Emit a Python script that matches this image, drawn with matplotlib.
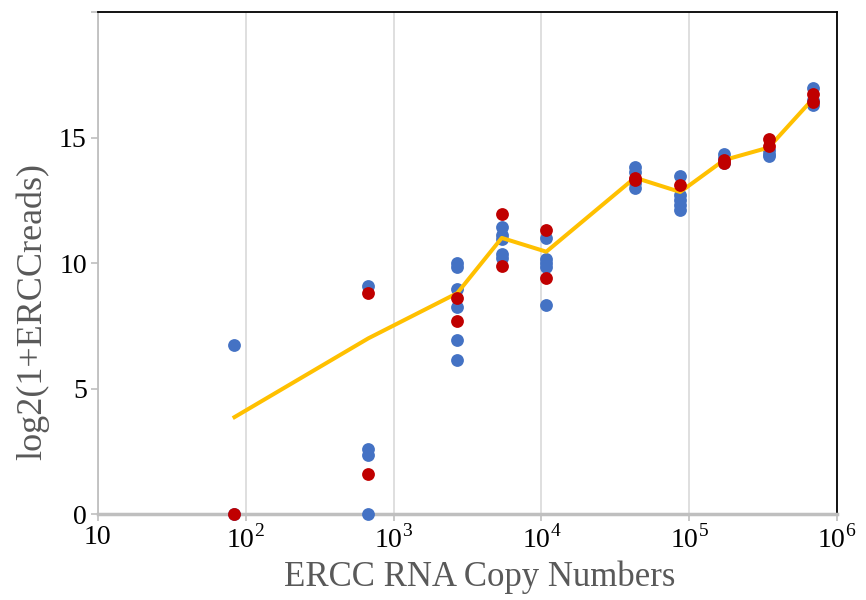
import matplotlib
matplotlib.use('Agg')
import matplotlib.pyplot as plt

plt.rcParams['font.family'] = 'Liberation Serif'
plt.rcParams['mathtext.fontset'] = 'custom'
plt.rcParams['mathtext.rm'] = 'Liberation Serif'

# ERCC copy numbers (x) and log2 read counts per spike-in group
copies = [84, 676, 2700, 5400, 10800, 43000, 87000, 172000, 345000, 690000]

blue_vals = [
    [6.75, 0],
    [9.1, 2.6, 2.35, 0],
    [10.0, 9.85, 8.95, 8.25, 6.93, 6.14],
    [11.42, 11.1, 10.95, 10.35, 10.2],
    [11.0, 10.15, 10.0, 9.85, 8.33],
    [13.83, 13.62, 13.0, 13.2],
    [13.45, 12.7, 12.5, 12.3, 12.1],
    [14.34, 14.0, 14.2],
    [14.5, 14.35, 14.25],
    [16.98, 16.3, 16.5],
]
red_vals = [
    [0],
    [8.8, 1.6],
    [8.62, 7.7],
    [11.95, 9.88],
    [11.32, 9.4],
    [13.38, 13.3],
    [13.1],
    [14.12, 14.0],
    [14.95, 14.65],
    [16.73, 16.42],
]
line_vals = [3.86, 7.0, 8.8, 11.0, 10.45, 13.4, 12.83, 14.1, 14.6, 16.55]

x_ticks = [10, 1e2, 1e3, 1e4, 1e5, 1e6]
x_labels = ['10', '$10^2$', '$10^3$', '$10^4$', '$10^5$', '$10^6$']
y_ticks = [0, 5, 10, 15, 20]
y_labels = ['0', '5', '10', '15', '']

fig = plt.figure(figsize=(8.66, 6), dpi=100)
ax = fig.add_axes([0.113, 0.1433, 0.8535, 0.8367])

bx = [c for c, vals in zip(copies, blue_vals) for _ in vals]
by = [v for vals in blue_vals for v in vals]
rx = [c for c, vals in zip(copies, red_vals) for _ in vals]
ry = [v for vals in red_vals for v in vals]

ax.scatter(bx, by, s=85, color='#4472C4', zorder=3, clip_on=False, linewidths=0)
ax.plot(copies, line_vals, color='#FFC000', lw=2.9, zorder=4)
ax.scatter(rx, ry, s=85, color='#C00000', zorder=5, clip_on=False, linewidths=0)

ax.set_xscale('log')
ax.set_xlim(10, 1e6)
ax.set_ylim(0, 20)
ax.set_xticks(x_ticks)
ax.set_xticklabels(x_labels)
ax.minorticks_off()
ax.set_yticks(y_ticks)
ax.set_yticklabels(y_labels)

ax.grid(axis='x', color='#d9d9d9', lw=1.2)
ax.set_axisbelow(True)

for side in ['top', 'right']:
    ax.spines[side].set_color('black')
    ax.spines[side].set_linewidth(1.3)
ax.spines['left'].set_color('#bfbfbf')
ax.spines['left'].set_linewidth(1.3)
ax.spines['bottom'].set_color('#bfbfbf')
ax.spines['bottom'].set_linewidth(2.5)

ax.tick_params(axis='both', colors='#bfbfbf', labelcolor='black', labelsize=20, length=5, width=1.2)
ax.tick_params(axis='x', pad=3)
ax.tick_params(axis='y', pad=3)

ax.set_xlabel('ERCC RNA Copy Numbers', fontsize=25, color='#595959')
ax.set_ylabel('log2(1+ERCCreads)', fontsize=26, color='#595959')
ax.xaxis.set_label_coords(0.517, -0.092)
ax.yaxis.set_label_coords(-0.066, 0.404)

fig.savefig('out.png', dpi=100)
